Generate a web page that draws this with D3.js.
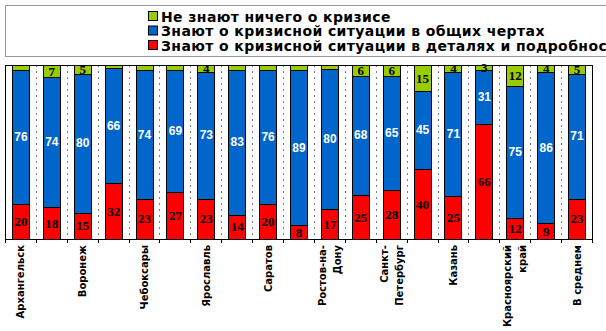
<!DOCTYPE html>
<html><head><meta charset="utf-8">
<script src="https://cdn.jsdelivr.net/npm/d3@7"></script>
<style>html,body{margin:0;padding:0;background:#fff;}svg{display:block;}</style>
</head><body>
<svg id="chart" width="606" height="331"></svg>
<script>
const categories = ["Архангельск","","Воронеж","","Чебоксары","","Ярославль","","Саратов","","Ростов-на-\nДону","","Санкт-\nПетербург","","Казань","","Красноярский\nкрай","","В среднем"];
const seriesNames = ["Не знают ничего о кризисе","Знают о кризисной ситуации в общих чертах","Знают о кризисной ситуации в деталях и подробностях"];
const detailed = [20,18,15,32,23,27,23,14,20,8,17,25,28,40,25,66,12,9,23];
const general  = [76,74,80,66,74,69,73,83,76,89,80,68,65,45,71,31,75,86,71];
const none     = [3,7,5,2,3,3,4,3,3,3,2,6,6,15,4,3,12,4,5];
const noneLabelShown = [false,true,true,false,false,false,true,false,false,false,false,true,true,true,true,true,true,true,true];
const colors = {none:"#99CC00", general:"#0066CC", detailed:"#FF0000"};

const svg = d3.select("#chart");
const plot = {left:5, right:592, top:65, bottom:239};

const rows = categories.map((c,i)=>({i, detailed:detailed[i], general:general[i], none:none[i]}));
const keys = ["detailed","general","none"];
const stack = d3.stack().keys(keys).offset(d3.stackOffsetExpand)(rows);

const x = d3.scaleBand().domain(d3.range(categories.length)).range([plot.left, plot.right]).padding(0);
const y = d3.scaleLinear().domain([0,1]).range([plot.bottom, plot.top]);
const bw = x.bandwidth();
const barW = bw*0.55;

// legend box
svg.append("rect").attr("x",5.5).attr("y",5.5).attr("width",640).attr("height",51)
  .attr("fill","#fff").attr("stroke","#999").attr("stroke-width",1);
const legendKeys = ["none","general","detailed"];
legendKeys.forEach((k,j)=>{
  const ly = 11 + j*14.5;
  svg.append("rect").attr("x",148.5).attr("y",ly+0.5).attr("width",9).attr("height",9)
    .attr("fill",colors[k]).attr("stroke","#000").attr("stroke-width",1);
  svg.append("text").attr("x",161).attr("y",ly+10.5).text(seriesNames[j])
    .attr("font-family","DejaVu Sans").attr("font-weight","bold").attr("font-size","14px")
    .attr("letter-spacing","0.4px").attr("fill","#000");
});

// dotted gridlines at category boundaries
const g = svg.append("g");
d3.range(1, categories.length).forEach(i=>{
  const bx = Math.round(x(i))+0.5;
  g.append("line").attr("x1",bx).attr("x2",bx).attr("y1",plot.top).attr("y2",plot.bottom)
    .attr("stroke","#808080").attr("stroke-dasharray","2,4");
});

// bars
stack.forEach(layer=>{
  svg.append("g").selectAll("rect").data(layer).join("rect")
    .attr("x",(d,i)=>Math.round(x(i)+(bw-barW)/2)+0.5)
    .attr("width",Math.round(barW))
    .attr("y",d=>Math.round(y(d[1]))+0.5)
    .attr("height",d=>Math.max(0,Math.round(y(d[0]))-Math.round(y(d[1]))))
    .attr("fill",colors[layer.key]).attr("stroke","#000").attr("stroke-width",1);
});

// plot border
svg.append("rect").attr("x",plot.left+0.5).attr("y",plot.top+0.5)
  .attr("width",plot.right-plot.left).attr("height",plot.bottom-plot.top)
  .attr("fill","none").attr("stroke","#000").attr("stroke-width",1);

// value labels
stack.forEach(layer=>{
  const k = layer.key;
  layer.forEach((d,i)=>{
    if (k==="none" && !noneLabelShown[i]) return;
    const cy = (y(d[0])+y(d[1]))/2;
    const t = svg.append("text").attr("x",x(i)+bw/2+0.5).attr("y",cy)
      .attr("text-anchor","middle").attr("dominant-baseline","central")
      .attr("font-weight","bold").text(rows[i][k]);
    if (k==="general") t.attr("fill","#fff").attr("font-family","Liberation Sans").attr("font-size","12px");
    else t.attr("fill","#000").attr("font-family","Liberation Serif").attr("font-size","13px");
  });
});

// x axis ticks at boundaries
d3.range(0, categories.length+1).forEach(i=>{
  const bx = Math.round(i<categories.length ? x(i) : plot.right)+0.5;
  svg.append("line").attr("x1",bx).attr("x2",bx).attr("y1",plot.bottom).attr("y2",plot.bottom+4)
    .attr("stroke","#000");
});

// category labels (rotated)
categories.forEach((c,i)=>{
  if (!c) return;
  const lines = c.split("\n");
  const cx = x(i)+bw/2;
  lines.forEach((ln,j)=>{
    const off = (j-(lines.length-1)/2)*15;
    svg.append("text")
      .attr("transform",`translate(${cx+off+4},${plot.bottom+6}) rotate(-90)`)
      .attr("text-anchor","end")
      .attr("font-family","DejaVu Sans").attr("font-weight","bold").attr("font-size","10px")
      .attr("fill","#000").text(ln);
  });
});
</script>
</body></html>
